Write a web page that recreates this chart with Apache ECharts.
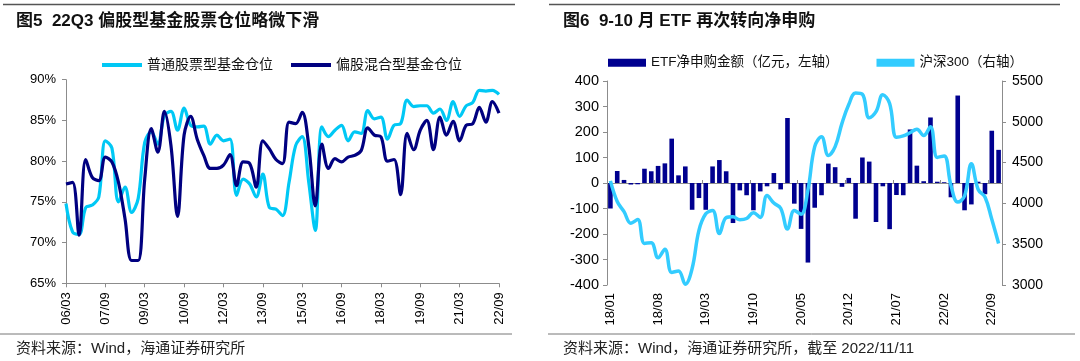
<!DOCTYPE html>
<html>
<head>
<meta charset="utf-8">
<script src="https://cdn.jsdelivr.net/npm/echarts@6/dist/echarts.min.js"></script>
<style>
html,body{margin:0;padding:0;background:#fff;}
#c{width:1080px;height:361px;}
</style>
</head>
<body>
<div id="c"></div>
<script>
// ---- Left chart (图5) ----
var leftCats = ['06/03','06/06','06/09','06/12','07/03','07/06','07/09','07/12','08/03','08/06','08/09','08/12',
'09/03','09/06','09/09','09/12','10/03','10/06','10/09','10/12','11/03','11/06','11/09','11/12',
'12/03','12/06','12/09','12/12','13/03','13/06','13/09','13/12','14/03','14/06','14/09','14/12',
'15/03','15/06','15/09','15/12','16/03','16/06','16/09','16/12','17/03','17/06','17/09','17/12',
'18/03','18/06','18/09','18/12','19/03','19/06','19/09','19/12','20/03','20/06','20/09','20/12',
'21/03','21/06','21/09','21/12','22/03','22/06','22/09'];
var stockFund = [74.8,71.3,71.0,74.3,74.6,75.6,82.5,81.6,75.0,76.8,73.7,75.4,
82.3,83.6,82.1,85.6,86.1,83.8,86.5,84.4,84.2,84.3,82.1,83.2,
82.5,82.7,75.8,77.8,77.2,75.6,78.4,74.3,74.1,73.3,77.4,81.9,
83.0,77.4,71.5,84.2,83.0,83.8,84.4,82.5,83.6,83.4,86.2,85.2,
85.4,82.7,84.4,84.6,87.5,86.7,86.8,86.8,85.9,86.4,85.0,87.3,
85.5,86.8,87.2,88.7,88.6,88.7,88.2];
var mixedFund = [77.2,77.4,70.9,80.2,78.0,77.6,80.5,79.9,77.4,72.9,67.8,67.8,
77.8,84.0,81.1,86.1,81.9,73.2,83.2,85.5,82.7,80.7,79.1,79.1,
79.5,80.8,77.0,79.9,79.7,76.8,82.5,81.5,80.2,79.7,84.8,84.6,
86.0,81.9,74.5,82.1,79.1,80.3,79.9,80.5,80.7,81.3,84.1,83.2,
83.0,80.0,80.2,75.9,83.4,81.4,83.8,85.0,81.4,85.4,83.2,84.9,
82.5,84.4,84.6,86.6,84.8,87.3,85.9];

// ---- Right chart (图6) ----
var rightCats = ['18/01','18/02','18/03','18/04','18/05','18/06','18/07','18/08','18/09','18/10','18/11','18/12',
'19/01','19/02','19/03','19/04','19/05','19/06','19/07','19/08','19/09','19/10','19/11','19/12',
'20/01','20/02','20/03','20/04','20/05','20/06','20/07','20/08','20/09','20/10','20/11','20/12',
'21/01','21/02','21/03','21/04','21/05','21/06','21/07','21/08','21/09','21/10','21/11','21/12',
'22/01','22/02','22/03','22/04','22/05','22/06','22/07','22/08','22/09','22/10'];
var etfNet = [-100,47,12,-6,-5,56,46,67,77,174,30,65,
-105,-59,-105,65,90,46,-157,-29,-48,-107,-33,-13,
39,-25,255,-81,-180,-312,-97,-48,76,62,-15,20,
-140,100,84,-153,-13,-181,-47,-48,210,68,7,257,
5,3,-56,343,-107,-84,5,-44,205,130];
var hs300 = [4275.9,4023.6,3898.5,3756.9,3802.4,3510.0,3517.7,3334.5,3438.9,3153.8,3172.7,3010.7,
3201.6,3669.4,3872.3,3913.2,3629.8,3825.6,3835.4,3799.6,3814.5,3886.8,3828.7,4096.6,
4003.9,3940.0,3686.2,3912.6,3867.0,4164.0,4695.1,4816.6,4587.4,4695.3,4980.8,5211.3,
5352.0,5336.8,5048.3,5123.5,5331.9,5224.0,4811.2,4827.2,4866.4,4908.8,4832.0,4940.4,
4563.8,4581.7,4222.6,4016.2,4090.6,4485.0,4170.1,4078.8,3804.9,3508.7];

var LIGHT_L = '#00C8F5';
var LIGHT_R = '#33CCFF';
var NAVY = '#000080';
var BAR = '#00008F';
var AXIS = '#8c8c8c';
var FONT = '"Liberation Sans","Noto Sans CJK SC",sans-serif';

var chart = echarts.init(document.getElementById('c'), null, {renderer:'canvas'});

var axisLineStyle = {show:true, lineStyle:{color:AXIS, width:1}};
var labelStyle = {color:'#000', fontFamily:FONT, fontSize:13};

var option = {
  animation:false,
  backgroundColor:'#fff',
  textStyle:{fontFamily:FONT},
  legend:[
    {
      left:102, top:58, padding:0, itemGap:18, itemWidth:40, itemHeight:4,
      icon:'rect',
      textStyle:{fontSize:14, color:'#111', fontFamily:FONT},
      data:['普通股票型基金仓位','偏股混合型基金仓位']
    },
    {
      left:608, top:56, padding:0, itemGap:38, itemWidth:38, itemHeight:8,
      textStyle:{fontSize:13.5, color:'#111', fontFamily:FONT},
      data:[{name:'ETF净申购金额（亿元，左轴）', icon:'rect'},
            {name:'沪深300（右轴）', icon:'rect', itemStyle:{color:LIGHT_R}}]
    }
  ],
  grid:[
    {left:66, top:79.7, width:433, height:203.6},
    {left:607, top:81, width:395, height:204}
  ],
  xAxis:[
    {
      type:'category', gridIndex:0, data:leftCats, boundaryGap:false,
      axisLine:axisLineStyle,
      axisTick:{show:true, interval:5, length:4, lineStyle:{color:AXIS}},
      axisLabel:Object.assign({interval:5, rotate:90, margin:9}, labelStyle),
      splitLine:{show:false}
    },
    {
      type:'category', gridIndex:1, data:rightCats, boundaryGap:true, position:'bottom',
      axisLine:{show:false, onZero:false},
      axisTick:{show:false},
      axisLabel:Object.assign({interval:6, rotate:90, margin:8}, labelStyle),
      splitLine:{show:false}
    },
    {
      type:'category', gridIndex:1, data:rightCats, boundaryGap:true, position:'bottom',
      axisLine:{show:true, onZero:true, onZeroAxisIndex:1, lineStyle:{color:AXIS, width:1}},
      axisTick:{show:true, interval:6, length:3, inside:true, lineStyle:{color:AXIS}},
      axisLabel:{show:false},
      splitLine:{show:false}
    }
  ],
  yAxis:[
    {
      type:'value', gridIndex:0, min:65, max:90, interval:5,
      axisLine:axisLineStyle,
      axisTick:{show:true, length:4, lineStyle:{color:AXIS}},
      axisLabel:Object.assign({formatter:'{value}%', margin:10}, labelStyle),
      splitLine:{show:false}
    },
    {
      type:'value', gridIndex:1, min:-400, max:400, interval:100,
      axisLine:axisLineStyle,
      axisTick:{show:true, length:4, lineStyle:{color:AXIS}},
      axisLabel:Object.assign({margin:8, formatter:function(v){return String(v);}}, labelStyle, {fontSize:14.5}),
      splitLine:{show:false}
    },
    {
      type:'value', gridIndex:1, position:'right', min:3000, max:5500, interval:500,
      axisLine:axisLineStyle,
      axisTick:{show:true, length:4, lineStyle:{color:AXIS}},
      axisLabel:Object.assign({margin:10, formatter:function(v){return String(v);}}, labelStyle, {fontSize:14}),
      splitLine:{show:false}
    }
  ],
  series:[
    {
      name:'普通股票型基金仓位', type:'line', xAxisIndex:0, yAxisIndex:0,
      data:stockFund, smooth:0.35, symbol:'none',
      lineStyle:{color:LIGHT_L, width:3.2}, itemStyle:{color:LIGHT_L}
    },
    {
      name:'偏股混合型基金仓位', type:'line', xAxisIndex:0, yAxisIndex:0,
      data:mixedFund, smooth:0.35, symbol:'none',
      lineStyle:{color:NAVY, width:3.2}, itemStyle:{color:NAVY}
    },
    {
      name:'ETF净申购金额（亿元，左轴）', type:'bar', xAxisIndex:1, yAxisIndex:1,
      data:etfNet, barWidth:4.6, itemStyle:{color:BAR}
    },
    {
      name:'沪深300（右轴）', type:'line', xAxisIndex:1, yAxisIndex:2,
      data:hs300, smooth:0.4, symbol:'none',
      lineStyle:{color:LIGHT_R, width:3.5}, itemStyle:{color:LIGHT_R}
    }
  ],
  graphic:[
    {type:'line', shape:{x1:3, y1:4.5, x2:515, y2:4.5}, style:{stroke:'#555', lineWidth:1.5}},
    {type:'line', shape:{x1:549, y1:4.5, x2:1060, y2:4.5}, style:{stroke:'#555', lineWidth:1.5}},
    {type:'line', shape:{x1:0, y1:334, x2:512, y2:334}, style:{stroke:'#777', lineWidth:1}},
    {type:'line', shape:{x1:548, y1:334, x2:1075, y2:334}, style:{stroke:'#777', lineWidth:1}},
    {type:'text', left:16, top:13, style:{text:'图5  22Q3 偏股型基金股票仓位略微下滑', fill:'#111',
      font:'bold 17px "Liberation Sans","Noto Sans CJK SC",sans-serif'}},
    {type:'text', left:563, top:13, style:{text:'图6  9-10 月 ETF 再次转向净申购', fill:'#111',
      font:'bold 17px "Liberation Sans","Noto Sans CJK SC",sans-serif'}},
    {type:'text', left:16, top:341, style:{text:'资料来源：Wind，海通证券研究所', fill:'#222',
      font:'15px "Liberation Sans","Noto Sans CJK SC",sans-serif'}},
    {type:'text', left:563, top:341, style:{text:'资料来源：Wind，海通证券研究所，截至 2022/11/11', fill:'#222',
      font:'15px "Liberation Sans","Noto Sans CJK SC",sans-serif'}}
  ]
};
chart.setOption(option);
</script>
</body>
</html>
